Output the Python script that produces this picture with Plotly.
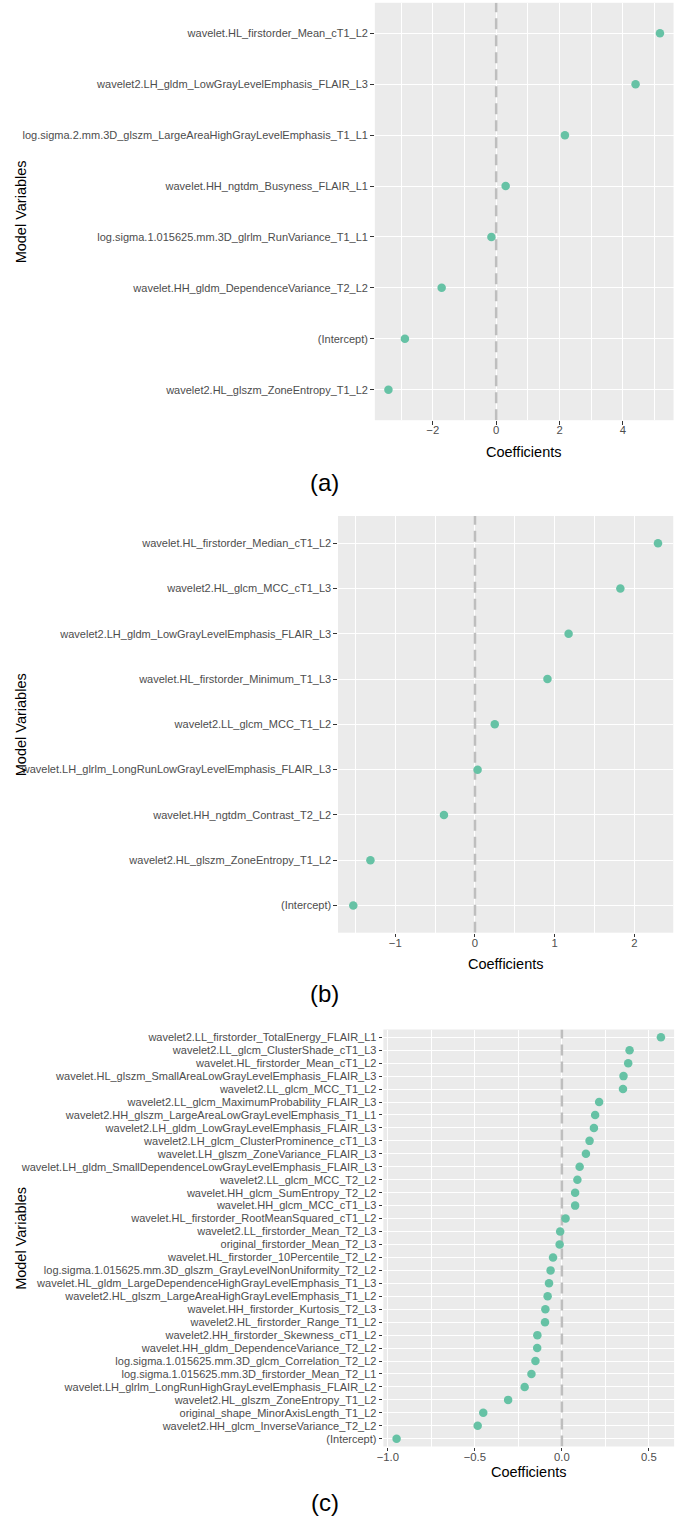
import plotly.graph_objects as go

# ---------------- data (top-to-bottom order as shown) ----------------
a_vars = [
    "wavelet.HL_firstorder_Mean_cT1_L2",
    "wavelet2.LH_gldm_LowGrayLevelEmphasis_FLAIR_L3",
    "log.sigma.2.mm.3D_glszm_LargeAreaHighGrayLevelEmphasis_T1_L1",
    "wavelet.HH_ngtdm_Busyness_FLAIR_L1",
    "log.sigma.1.015625.mm.3D_glrlm_RunVariance_T1_L1",
    "wavelet.HH_gldm_DependenceVariance_T2_L2",
    "(Intercept)",
    "wavelet2.HL_glszm_ZoneEntropy_T1_L2",
]
a_coef = [5.17, 4.40, 2.17, 0.30, -0.15, -1.72, -2.88, -3.40]

b_vars = [
    "wavelet.HL_firstorder_Median_cT1_L2",
    "wavelet2.HL_glcm_MCC_cT1_L3",
    "wavelet2.LH_gldm_LowGrayLevelEmphasis_FLAIR_L3",
    "wavelet.HL_firstorder_Minimum_T1_L3",
    "wavelet2.LL_glcm_MCC_T1_L2",
    "wavelet.LH_glrlm_LongRunLowGrayLevelEmphasis_FLAIR_L3",
    "wavelet.HH_ngtdm_Contrast_T2_L2",
    "wavelet2.HL_glszm_ZoneEntropy_T1_L2",
    "(Intercept)",
]
b_coef = [2.295, 1.823, 1.174, 0.909, 0.248, 0.033, -0.389, -1.311, -1.526]

c_vars = [
    "wavelet2.LL_firstorder_TotalEnergy_FLAIR_L1",
    "wavelet2.LL_glcm_ClusterShade_cT1_L3",
    "wavelet.HL_firstorder_Mean_cT1_L2",
    "wavelet.HL_glszm_SmallAreaLowGrayLevelEmphasis_FLAIR_L3",
    "wavelet2.LL_glcm_MCC_T1_L2",
    "wavelet2.LL_glcm_MaximumProbability_FLAIR_L3",
    "wavelet2.HH_glszm_LargeAreaLowGrayLevelEmphasis_T1_L1",
    "wavelet2.LH_gldm_LowGrayLevelEmphasis_FLAIR_L3",
    "wavelet2.LH_glcm_ClusterProminence_cT1_L3",
    "wavelet.LH_glszm_ZoneVariance_FLAIR_L3",
    "wavelet.LH_gldm_SmallDependenceLowGrayLevelEmphasis_FLAIR_L3",
    "wavelet2.LL_glcm_MCC_T2_L2",
    "wavelet.HH_glcm_SumEntropy_T2_L2",
    "wavelet.HH_glcm_MCC_cT1_L3",
    "wavelet.HL_firstorder_RootMeanSquared_cT1_L2",
    "wavelet2.LL_firstorder_Mean_T2_L3",
    "original_firstorder_Mean_T2_L3",
    "wavelet.HL_firstorder_10Percentile_T2_L2",
    "log.sigma.1.015625.mm.3D_glszm_GrayLevelNonUniformity_T2_L2",
    "wavelet.HL_gldm_LargeDependenceHighGrayLevelEmphasis_T1_L3",
    "wavelet2.HL_glszm_LargeAreaHighGrayLevelEmphasis_T1_L2",
    "wavelet.HH_firstorder_Kurtosis_T2_L3",
    "wavelet2.HL_firstorder_Range_T1_L2",
    "wavelet2.HH_firstorder_Skewness_cT1_L2",
    "wavelet.HH_gldm_DependenceVariance_T2_L2",
    "log.sigma.1.015625.mm.3D_glcm_Correlation_T2_L2",
    "log.sigma.1.015625.mm.3D_firstorder_Mean_T2_L1",
    "wavelet.LH_glrlm_LongRunHighGrayLevelEmphasis_FLAIR_L2",
    "wavelet2.HL_glszm_ZoneEntropy_T1_L2",
    "original_shape_MinorAxisLength_T1_L2",
    "wavelet2.HH_glcm_InverseVariance_T2_L2",
    "(Intercept)",
]
c_coef = [0.569, 0.389, 0.381, 0.354, 0.351, 0.214, 0.191, 0.184, 0.159, 0.138,
          0.102, 0.089, 0.076, 0.076, 0.021, -0.010, -0.013, -0.051, -0.065, -0.074,
          -0.082, -0.095, -0.097, -0.141, -0.142, -0.152, -0.175, -0.214, -0.309,
          -0.452, -0.484, -0.950]

panel_letters = ["(a)", "(b)", "(c)"]
x_title = "Coefficients"
y_title = "Model Variables"

# ---------------- layout geometry ----------------
W, H = 677, 1516
panels = [
    dict(vars=a_vars, coef=a_coef, px=(371.7, 673.5), py=(2.8, 420.2), dtick=2, minor=1, fmt="d",
         ty=452, ly=482),
    dict(vars=b_vars, coef=b_coef, px=(334.5, 673.2), py=(516.0, 932.7), dtick=1, minor=0.5, fmt="d",
         ty=964, ly=993),
    dict(vars=c_vars, coef=c_coef, px=(380.3, 674.1), py=(1029.5, 1446.5), dtick=0.5, minor=0.25, fmt=".1f",
         ty=1472, ly=1502),
]

POINT = "#66C2A5"
FONT = "Liberation Sans, Arial, sans-serif"


def fx(v):
    return v / W


def fy(v):
    return 1 - v / H


fig = go.Figure()
annotations = []

for i, p in enumerate(panels):
    k = "" if i == 0 else str(i + 1)
    xa, ya = "x" + k, "y" + k
    n = len(p["vars"])
    pos = [n - 1 - j for j in range(n)]  # first listed variable at top
    yr = [-0.6, n - 0.4]
    # dashed zero reference line (drawn first, under points)
    fig.add_trace(go.Scatter(
        x=[0, 0], y=yr, mode="lines", xaxis=xa, yaxis=ya,
        line=dict(color="#BEBEBE", width=2.5, dash="11px,6px"),
        showlegend=False, hoverinfo="skip",
    ))
    fig.add_trace(go.Scatter(
        x=p["coef"], y=pos, mode="markers", xaxis=xa, yaxis=ya,
        marker=dict(color=POINT, size=8.5, line=dict(width=0)),
        text=p["vars"], hovertemplate="%{text}: %{x}<extra></extra>",
        showlegend=False,
    ))
    lo, hi = min(p["coef"]), max(p["coef"])
    span = hi - lo
    xr = [lo - 0.05 * span, hi + 0.05 * span]
    fig.layout["xaxis" + k] = dict(
        domain=[fx(p["px"][0]), fx(p["px"][1])],
        anchor=ya, range=xr, tick0=0, dtick=p["dtick"], tickformat=p["fmt"],
        showgrid=True, gridcolor="white", gridwidth=1.1,
        minor=dict(dtick=p["minor"], tick0=0, showgrid=True, gridcolor="white", gridwidth=0.55, ticks=""),
        zeroline=False, showline=False,
        ticks="outside", ticklen=3.7, tickwidth=1.1, tickcolor="#333333",
        ticklabelstandoff=-4,
        tickfont=dict(family=FONT, size=11.3, color="#4D4D4D"),
        fixedrange=True,
    )
    fig.layout["yaxis" + k] = dict(
        domain=[fy(p["py"][1]), fy(p["py"][0])],
        anchor=xa, range=yr, tickmode="array", tickvals=pos, ticktext=p["vars"],
        showgrid=True, gridcolor="white", gridwidth=1.1,
        zeroline=False, showline=False,
        ticks="outside", ticklen=3.7, tickwidth=1.1, tickcolor="#333333",
        tickfont=dict(family=FONT, size=11, color="#4D4D4D"),
        fixedrange=True,
    )
    cx = (p["px"][0] + p["px"][1]) / 2
    annotations.append(dict(text=x_title, x=fx(cx), y=fy(p["ty"]), xref="paper", yref="paper",
                            showarrow=False, xanchor="center", yanchor="middle",
                            font=dict(family=FONT, size=14.5, color="black")))
    cy = (p["py"][0] + p["py"][1]) / 2
    annotations.append(dict(text=y_title, x=fx(14), y=fy(cy), xref="paper", yref="paper",
                            showarrow=False, textangle=-90, xanchor="center", yanchor="middle",
                            font=dict(family=FONT, size=14.5, color="black")))
    annotations.append(dict(text=panel_letters[i], x=fx(321), y=fy(p["ly"]), xref="paper", yref="paper",
                            showarrow=False, xanchor="center", yanchor="middle",
                            font=dict(family=FONT, size=24, color="black")))

fig.update_layout(
    width=W, height=H, margin=dict(l=0, r=0, t=0, b=0),
    paper_bgcolor="white", plot_bgcolor="#EBEBEB",
    annotations=annotations,
)

# remove the default 8px page margin so the figure sits at the window's corner
fig.write_html(
    "out.html",
    config={"displayModeBar": False},
    post_script="document.body.style.margin='0px';document.body.style.overflow='hidden';",
)
